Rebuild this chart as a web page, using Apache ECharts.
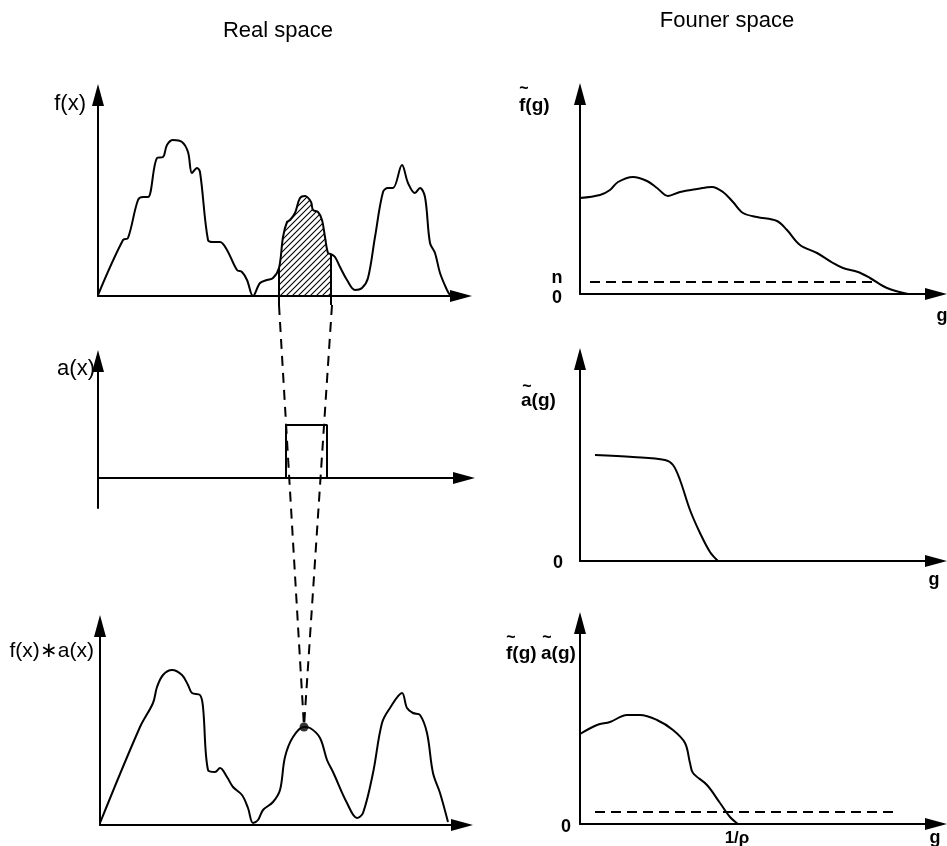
<!DOCTYPE html>
<html>
<head>
<meta charset="utf-8">
<script src="https://cdn.jsdelivr.net/npm/echarts@6/dist/echarts.min.js"></script>
<style>html,body{margin:0;padding:0;background:#fff}#c{width:947px;height:846px}</style>
</head>
<body>
<div id="c"></div>
<script>
// ---- data (panel units, origin at each panel's axes crossing) ----
var fx = [[0,1],[25,56],[30,58],[40,96],[45,99],[50,99],[59,138],[65,139],[69,151],[75,156],[84,154],[90,144],[94,123],[99,128],[102,124],[110,56],[115,54],[122,54],[129,46],[139,26],[144,24],[149,16],[155,0],[162,13],[169,16],[175,18],[181,28],[185,59],[189,74],[192,76],[197,83],[202,98],[207,100],[213,94],[215,86],[220,84],[224,76],[227,59],[230,43],[233,42],[237,39],[242,29],[249,16],[257,6],[264,8],[270,18],[277,59],[285,104],[290,108],[295,108],[304,131],[310,113],[317,103],[322,108],[327,99],[332,53],[337,43],[342,23],[349,6],[352,1]];
var windowRange = [181, 233];
var ax = [[0,0],[188,0],[188,53],[229,53],[229,0],[366,0]];
var fax = [[0,2],[40,98],[53,122],[57,138],[63,150],[72,155],[82,150],[88,140],[92,132],[100,130],[103,118],[108,55],[115,53],[120,57],[127,48],[133,38],[142,30],[148,17],[153,2],[158,5],[163,15],[173,23],[180,35],[185,68],[193,88],[204,98],[210,97],[220,87],[227,65],[233,53],[247,22],[257,7],[263,12],[273,52],[282,102],[290,117],[302,132],[307,117],[313,112],[320,110],[327,92],[333,52],[340,32],[348,3]];
var faxPoint = [[204,98]];
var fg = [[0,96],[20,99],[30,104],[38,112],[53,117],[67,113],[77,106],[88,98],[100,102],[117,105],[132,107],[143,102],[153,92],[163,81],[177,77],[197,73],[207,64],[220,49],[237,41],[253,31],[263,26],[278,22],[290,16],[307,6],[328,0]];
var noiseTop = [[10,12],[295,12]];
var ag = [[15,106],[53,104],[85,101],[93,96],[100,81],[110,51],[120,28],[130,9],[138,0]];
var fgag = [[0,90],[17,99],[30,102],[47,109],[60,109],[77,104],[93,94],[105,81],[110,61],[113,51],[127,39],[140,21],[150,7],[158,0]];
var noiseBottom = [[15,12],[315,12]];
// connector lines (page units)
var connLeft = [[279,305],[304,727]];
var connRight = [[332,305],[304,727]];

var chart = echarts.init(document.getElementById('c'), null, {renderer:'canvas'});

// hatch pattern
var pc = document.createElement('canvas');
pc.width = 6; pc.height = 6;
var g = pc.getContext('2d');
g.strokeStyle = '#000'; g.lineWidth = 1.1;
g.beginPath();
g.moveTo(-1,7); g.lineTo(7,-1);
g.moveTo(-1,1); g.lineTo(1,-1);
g.moveTo(5,7); g.lineTo(7,5);
g.stroke();

var K = '#000';
var grids = [
  {left:98, top:95, width:363, height:201},
  {left:98, top:361, width:366, height:147},
  {left:100, top:626, width:362, height:199},
  {left:580, top:94, width:356, height:200},
  {left:580, top:359, width:356, height:202},
  {left:580, top:623, width:356, height:201},
  {left:0, top:0, width:947, height:846}
];
var yr = [[0,201],[-30,117],[0,199],[0,200],[0,202],[0,201]];
function axisBase(show){
  return {
    type:'value', show:show,
    axisLine:{show:true, onZero:true, symbol:['none','triangle'], symbolSize:[12,22], lineStyle:{color:K, width:2}},
    axisTick:{show:false}, axisLabel:{show:false}, splitLine:{show:false}
  };
}
var xAxes = [], yAxes = [];
for (var i=0;i<6;i++){
  var xa = axisBase(true); xa.gridIndex=i; xa.min=0; xa.max=grids[i].width; xAxes.push(xa);
  var ya = axisBase(true); ya.gridIndex=i; ya.min=yr[i][0]; ya.max=yr[i][1]; yAxes.push(ya);
}
xAxes.push({type:'value', gridIndex:6, min:0, max:947, show:false});
yAxes.push({type:'value', gridIndex:6, min:0, max:846, inverse:true, show:false});

function lineS(idx, data, extra){
  var s = {type:'line', xAxisIndex:idx, yAxisIndex:idx, data:data, symbol:'none', smooth:0.35,
    lineStyle:{color:K, width:2}, silent:true, animation:false};
  if (extra) for (var k in extra) s[k]=extra[k];
  return s;
}
var windowData = fx.filter(function(p){return p[0]>=windowRange[0] && p[0]<=windowRange[1];});
var wl = windowData[0], wr = windowData[windowData.length-1];

var series = [
  lineS(0, windowData, {lineStyle:{width:0}, areaStyle:{color:{image:pc, repeat:'repeat'}, opacity:1}, z:1}),
  lineS(0, fx),
  lineS(0, [[wl[0],-9],[wl[0],wl[1]]], {smooth:false, clip:false}),
  lineS(0, [[wr[0],-9],[wr[0],wr[1]]], {smooth:false, clip:false}),
  lineS(1, ax, {smooth:false}),
  lineS(2, fax),
  {type:'scatter', xAxisIndex:2, yAxisIndex:2, data:faxPoint, symbolSize:9, itemStyle:{color:K}, silent:true, animation:false, z:5},
  lineS(3, fg),
  lineS(3, noiseTop, {smooth:false, lineStyle:{color:K, width:1.8, type:[10,6]}}),
  lineS(4, ag),
  lineS(5, fgag),
  lineS(5, noiseBottom, {smooth:false, lineStyle:{color:K, width:1.8, type:[10,6]}}),
  lineS(6, connLeft, {smooth:false, lineStyle:{color:K, width:2, type:[10,7]}}),
  lineS(6, connRight, {smooth:false, lineStyle:{color:K, width:2, type:[10,7]}})
];

var FF = '"Liberation Sans", Arial, sans-serif';
function txt(x, y, s, size, align, weight){
  return {type:'text', x:x, y:y, silent:true, z:10, style:{text:s, fill:K, font:(weight||'normal')+' '+size+'px '+FF, textAlign:align||'center', textVerticalAlign:'middle'}};
}
var graphics = [
  txt(278, 31, 'Real space', 22),
  txt(727, 21, 'Founer space', 22),
  txt(86, 104, 'f(x)', 22, 'right'),
  txt(95, 369, 'a(x)', 22, 'right'),
  txt(94, 651, 'f(x)\u2217a(x)', 21, 'right'),
  txt(519, 106, 'f(g)', 19, 'left', 'bold'),
  txt(524, 89, '~', 16, 'center', 'bold'),
  txt(521, 401, 'a(g)', 19, 'left', 'bold'),
  txt(527, 387, '~', 16, 'center', 'bold'),
  txt(506, 654, 'f(g)', 19, 'left', 'bold'),
  txt(511, 638, '~', 16, 'center', 'bold'),
  txt(541, 654, 'a(g)', 19, 'left', 'bold'),
  txt(547, 638, '~', 16, 'center', 'bold'),
  txt(557, 278, 'n', 18, 'center', 'bold'),
  txt(557, 298, '0', 18, 'center', 'bold'),
  txt(558, 563, '0', 18, 'center', 'bold'),
  txt(566, 827, '0', 18, 'center', 'bold'),
  txt(942, 316, 'g', 18, 'center', 'bold'),
  txt(934, 580, 'g', 18, 'center', 'bold'),
  txt(935, 838, 'g', 18, 'center', 'bold'),
  txt(737, 838, '1/\u03c1', 17, 'center', 'bold')
];

chart.setOption({
  animation:false,
  backgroundColor:'#fff',
  grid:grids.map(function(gq){var o={}; for(var k in gq)o[k]=gq[k]; o.containLabel=false; return o;}),
  xAxis:xAxes, yAxis:yAxes, series:series, graphic:graphics
});
</script>
</body>
</html>
